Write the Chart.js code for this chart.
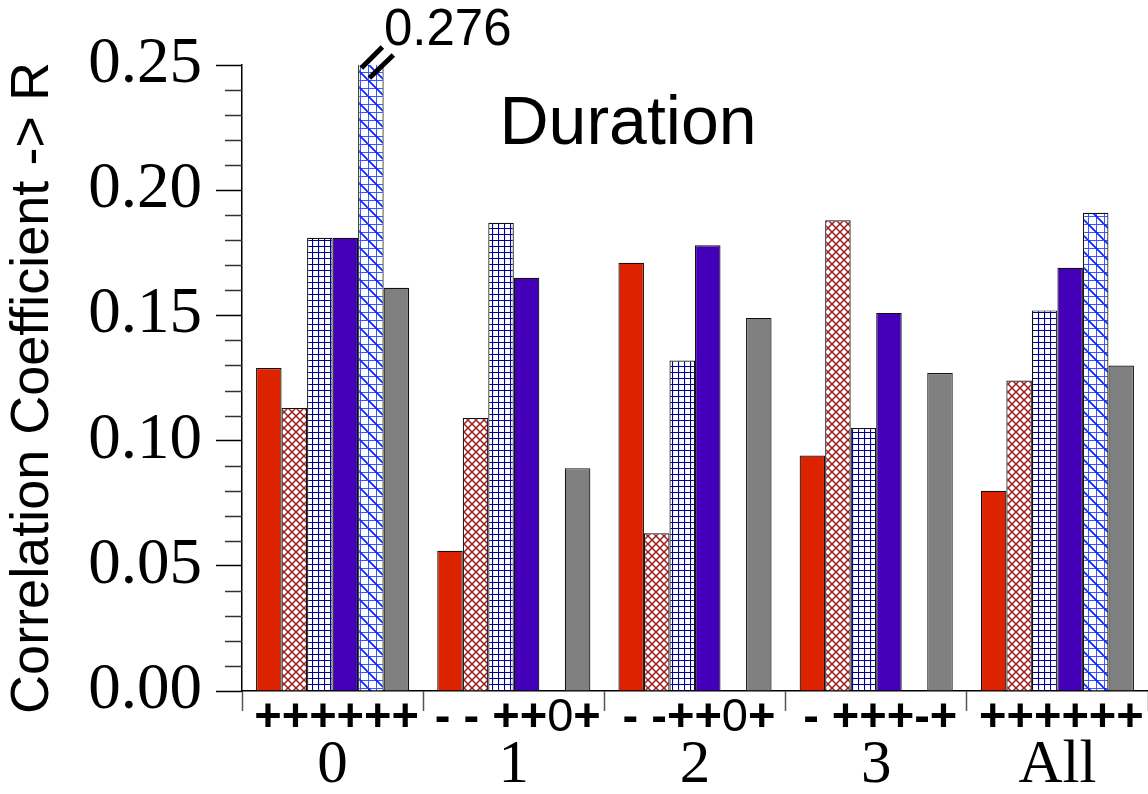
<!DOCTYPE html>
<html>
<head>
<meta charset="utf-8">
<script src="https://cdn.jsdelivr.net/npm/chart.js@4/dist/chart.umd.min.js"></script>
<style>
  html, body { margin: 0; padding: 0; background: #fff; }
  #wrap { width: 1148px; height: 794px; }
</style>
</head>
<body>
<div id="wrap"><canvas id="chart" width="1148" height="794"></canvas></div>
<script>
// ── Data ────────────────────────────────────────────────────────────────────
const groups = ['0', '1', '2', '3', 'All'];
const signs = ['++++++', '- - ++0+', '- -++0+', '- +++-+', '++++++'];
const redSolid    = [0.129, 0.056, 0.171, 0.094, 0.080];
const redHatch    = [0.113, 0.109, 0.063, 0.188, 0.124];
const blueGrid    = [0.181, 0.187, 0.132, 0.105, 0.152];
const purpleSolid = [0.181, 0.165, 0.178, 0.151, 0.169];
const blueDiag    = [0.276, 0, 0, 0, 0.191];
const graySolid   = [0.161, 0.089, 0.149, 0.127, 0.130];
const yMin = 0, yMax = 0.25, yMinorStep = 0.01, yMajorStep = 0.05;

// ── Fill patterns ───────────────────────────────────────────────────────────
function makePattern(size, draw) {
  const c = document.createElement('canvas');
  c.width = size; c.height = size;
  const g = c.getContext('2d');
  g.fillStyle = '#fff';
  g.fillRect(0, 0, size, size);
  draw(g, size);
  return g.createPattern(c, 'repeat');
}

const hatchRed = makePattern(8, (g, s) => {
  g.strokeStyle = '#a01c1c';
  g.lineWidth = 1.5;
  g.beginPath();
  g.moveTo(0, 0); g.lineTo(s, s);
  g.moveTo(s, 0); g.lineTo(0, s);
  g.stroke();
});

const gridBlue = makePattern(6, (g, s) => {
  g.strokeStyle = '#000090';
  g.lineWidth = 1.2;
  g.beginPath();
  g.moveTo(0.5, 0); g.lineTo(0.5, s);
  g.moveTo(0, 0.5); g.lineTo(s, 0.5);
  g.stroke();
});

const diagBlue = makePattern(16, (g, s) => {
  g.strokeStyle = '#3a55ff';
  g.lineWidth = 1;
  g.beginPath();
  g.moveTo(0.5, 0); g.lineTo(0.5, s);
  g.moveTo(8.5, 0); g.lineTo(8.5, s);
  g.moveTo(0, 0.5); g.lineTo(s, 0.5);
  g.moveTo(0, 8.5); g.lineTo(s, 8.5);
  g.stroke();
  g.strokeStyle = '#0a28ff';
  g.lineWidth = 1.8;
  g.beginPath();
  g.moveTo(-1, -1); g.lineTo(s + 1, s + 1);
  g.stroke();
});

// ── Extra drawing: minor ticks, labels, break mark ──────────────────────────
const signFont = ch => (ch === '0' ? '' : 'bold ') + '47px "Liberation Sans", Arial, sans-serif';

function drawSigns(ctx, text, cx, cy) {
  // '+' and '-' heavy, '0' regular, like the original
  const widths = [...text].map(ch => { ctx.font = signFont(ch); return ctx.measureText(ch).width; });
  let x = cx - widths.reduce((a, b) => a + b, 0) / 2;
  [...text].forEach((ch, i) => {
    ctx.font = signFont(ch);
    ctx.fillText(ch, x, cy);
    x += widths[i];
  });
}

const extras = {
  id: 'extras',
  afterDraw(chart) {
    const ctx = chart.ctx;
    const ys = chart.scales.y, xs = chart.scales.x;
    const area = chart.chartArea;
    ctx.save();

    // minor ticks on y axis
    ctx.strokeStyle = '#333';
    ctx.lineWidth = 1.5;
    for (let v = yMin; v <= yMax + 1e-9; v += yMinorStep) {
      const r = Math.round(v / yMinorStep);
      if (r % 5 === 0) continue;
      const y = Math.round(ys.getPixelForValue(v)) + 0.5;
      ctx.beginPath();
      ctx.moveTo(area.left - 17, y);
      ctx.lineTo(area.left, y);
      ctx.stroke();
    }

    // sign strings under each group
    ctx.fillStyle = '#000';
    ctx.textAlign = 'left';
    ctx.textBaseline = 'middle';
    groups.forEach((g, i) => {
      drawSigns(ctx, signs[i], xs.getPixelForValue(i) + 4, area.bottom + 27);
    });

    // axis title
    ctx.textAlign = 'center';
    ctx.save();
    ctx.translate(33, 388);
    ctx.rotate(-Math.PI / 2);
    ctx.font = '54px "Liberation Sans", Arial, sans-serif';
    ctx.fillText('Correlation Coefficient -> R', 0, 0);
    ctx.restore();

    // panel title
    ctx.font = '68px "Liberation Sans", Arial, sans-serif';
    ctx.fillText('Duration', 628, 125);

    // off-scale bar: break mark and value
    const bar = chart.getDatasetMeta(4).data[0];
    const top = area.top;
    ctx.strokeStyle = '#000';
    ctx.lineWidth = 5;
    ctx.lineCap = 'butt';
    ctx.beginPath();
    ctx.moveTo(bar.x - 9.5, top + 3);  ctx.lineTo(bar.x + 11.5, top - 18);
    ctx.moveTo(bar.x - 1.5, top + 13); ctx.lineTo(bar.x + 22.5, top - 10);
    ctx.stroke();
    ctx.font = '51px "Liberation Sans", Arial, sans-serif';
    ctx.textAlign = 'left';
    ctx.fillText(blueDiag[0].toFixed(3), bar.x + 13, top - 34);

    ctx.restore();
  }
};

// ── Chart ───────────────────────────────────────────────────────────────────
const ds = (data, fill) => ({
  data,
  backgroundColor: fill,
  borderColor: '#111',
  borderWidth: 1.2,
  categoryPercentage: 0.845,
  barPercentage: 1.0
});

new Chart(document.getElementById('chart').getContext('2d'), {
  type: 'bar',
  data: {
    labels: groups,
    datasets: [
      ds(redSolid, '#dd2200'),
      ds(redHatch, hatchRed),
      ds(blueGrid, gridBlue),
      ds(purpleSolid, '#4400b8'),
      ds(blueDiag, diagBlue),
      ds(graySolid, '#808080')
    ]
  },
  options: {
    responsive: false,
    animation: false,
    layout: { padding: { top: 65, right: 0, left: 0, bottom: 0 } },
    plugins: { legend: { display: false }, tooltip: { enabled: false } },
    scales: {
      x: {
        afterFit: s => { s.height = 103; },
        grid: {
          offset: true,
          drawOnChartArea: false,
          tickLength: 20,
          tickColor: '#555',
          tickWidth: 1.5
        },
        border: { display: true, color: '#000', width: 1.5 },
        ticks: {
          padding: 18,
          maxRotation: 0,
          autoSkip: false,
          color: '#000',
          font: { family: '"Liberation Serif", "Times New Roman", serif', size: 61 }
        }
      },
      y: {
        min: yMin,
        max: yMax,
        afterFit: s => { s.width = 242; },
        grid: {
          drawOnChartArea: false,
          tickLength: 26,
          tickWidth: 1.5,
          tickColor: c => (Math.round(c.tick.value / yMinorStep) % 5 === 0 ? '#000' : 'rgba(0,0,0,0)')
        },
        border: { display: true, color: '#000', width: 1.5 },
        ticks: {
          stepSize: yMinorStep,
          autoSkip: false,
          padding: 14,
          color: '#000',
          font: { family: '"Liberation Serif", "Times New Roman", serif', size: 65 },
          callback: v => (Math.round(v / yMinorStep) % 5 === 0 ? Number(v).toFixed(2) : '')
        }
      }
    }
  },
  plugins: [extras]
});
</script>
</body>
</html>
